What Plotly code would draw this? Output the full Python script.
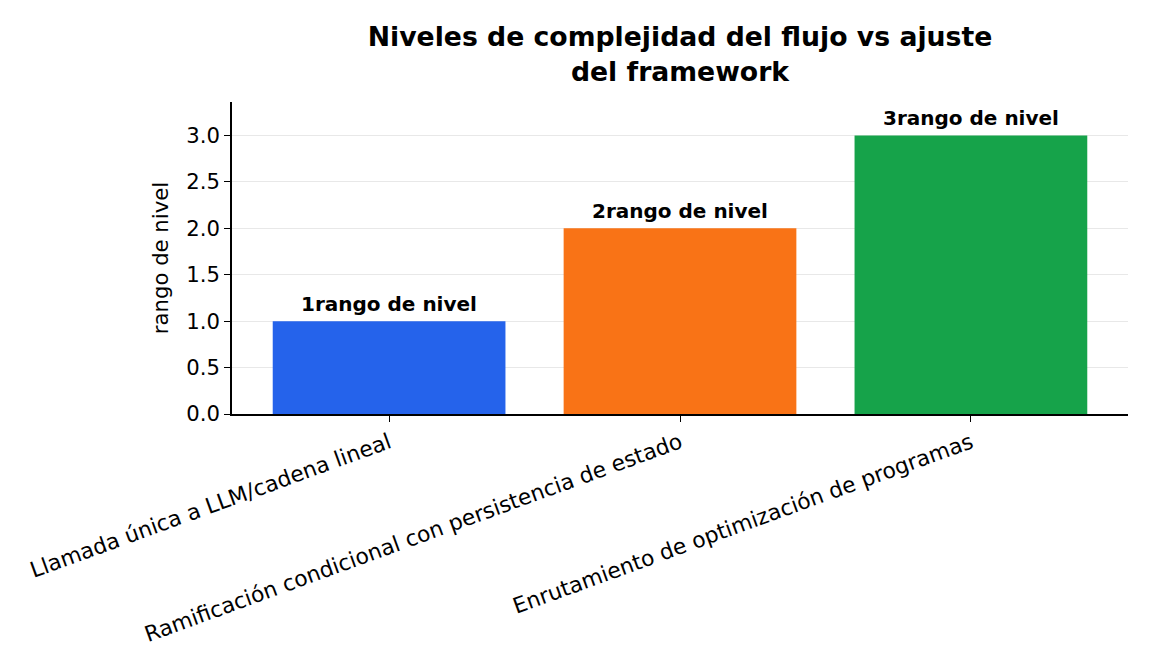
import plotly.graph_objects as go

categories = [
    "Llamada única a LLM/cadena lineal",
    "Ramificación condicional con persistencia de estado",
    "Enrutamiento de optimización de programas",
]
values = [1, 2, 3]
bar_labels = ["1rango de nivel", "2rango de nivel", "3rango de nivel"]
colors = ["#2563eb", "#f97316", "#16a34a"]
y_ticks = [0.0, 0.5, 1.0, 1.5, 2.0, 2.5, 3.0]

FONT = "DejaVu Sans"

fig = go.Figure()
fig.add_trace(go.Bar(
    x=categories, y=values, marker=dict(color=colors, line=dict(width=0)),
    width=0.8, showlegend=False,
))
for c, v, t in zip(categories, values, bar_labels):
    fig.add_annotation(x=c, y=v, text="<b>%s</b>" % t, showarrow=False,
                       yanchor="bottom", yshift=3,
                       font=dict(family=FONT, size=20, color="black"))

fig.update_layout(
    width=1152, height=672,
    margin=dict(l=232, r=24, t=102, b=258),
    paper_bgcolor="white", plot_bgcolor="white",
    font=dict(family=FONT, size=20.8, color="black"),
    title=dict(text="<b>Niveles de complejidad del flujo vs ajuste<br>del framework</b>",
               x=(232 + 1128) / 2 / 1152, xanchor="center", y=1 - 46 / 672, yanchor="top",
               font=dict(family=FONT, size=26.7, color="black")),
    xaxis=dict(range=[-0.54, 2.54], showline=True, linecolor="black", linewidth=1.5,
               ticks="outside", ticklen=6, tickcolor="black", tickwidth=1.2, tickangle=-20,
               tickfont=dict(family=FONT, size=21.8), showgrid=False, zeroline=False),
    yaxis=dict(range=[0, 3.36], showline=True, linecolor="black", linewidth=1.5,
               ticks="outside", ticklen=6, tickcolor="black", tickwidth=1.2,
               tickvals=y_ticks, ticktext=["%.1f" % v for v in y_ticks],
               tickfont=dict(family=FONT, size=21.2),
               showgrid=True, gridcolor="#e8e8e8", gridwidth=1.2, zeroline=False,
               title=dict(text="rango de nivel", font=dict(family=FONT, size=21.2), standoff=12)),
)
fig.write_html("out.html")
